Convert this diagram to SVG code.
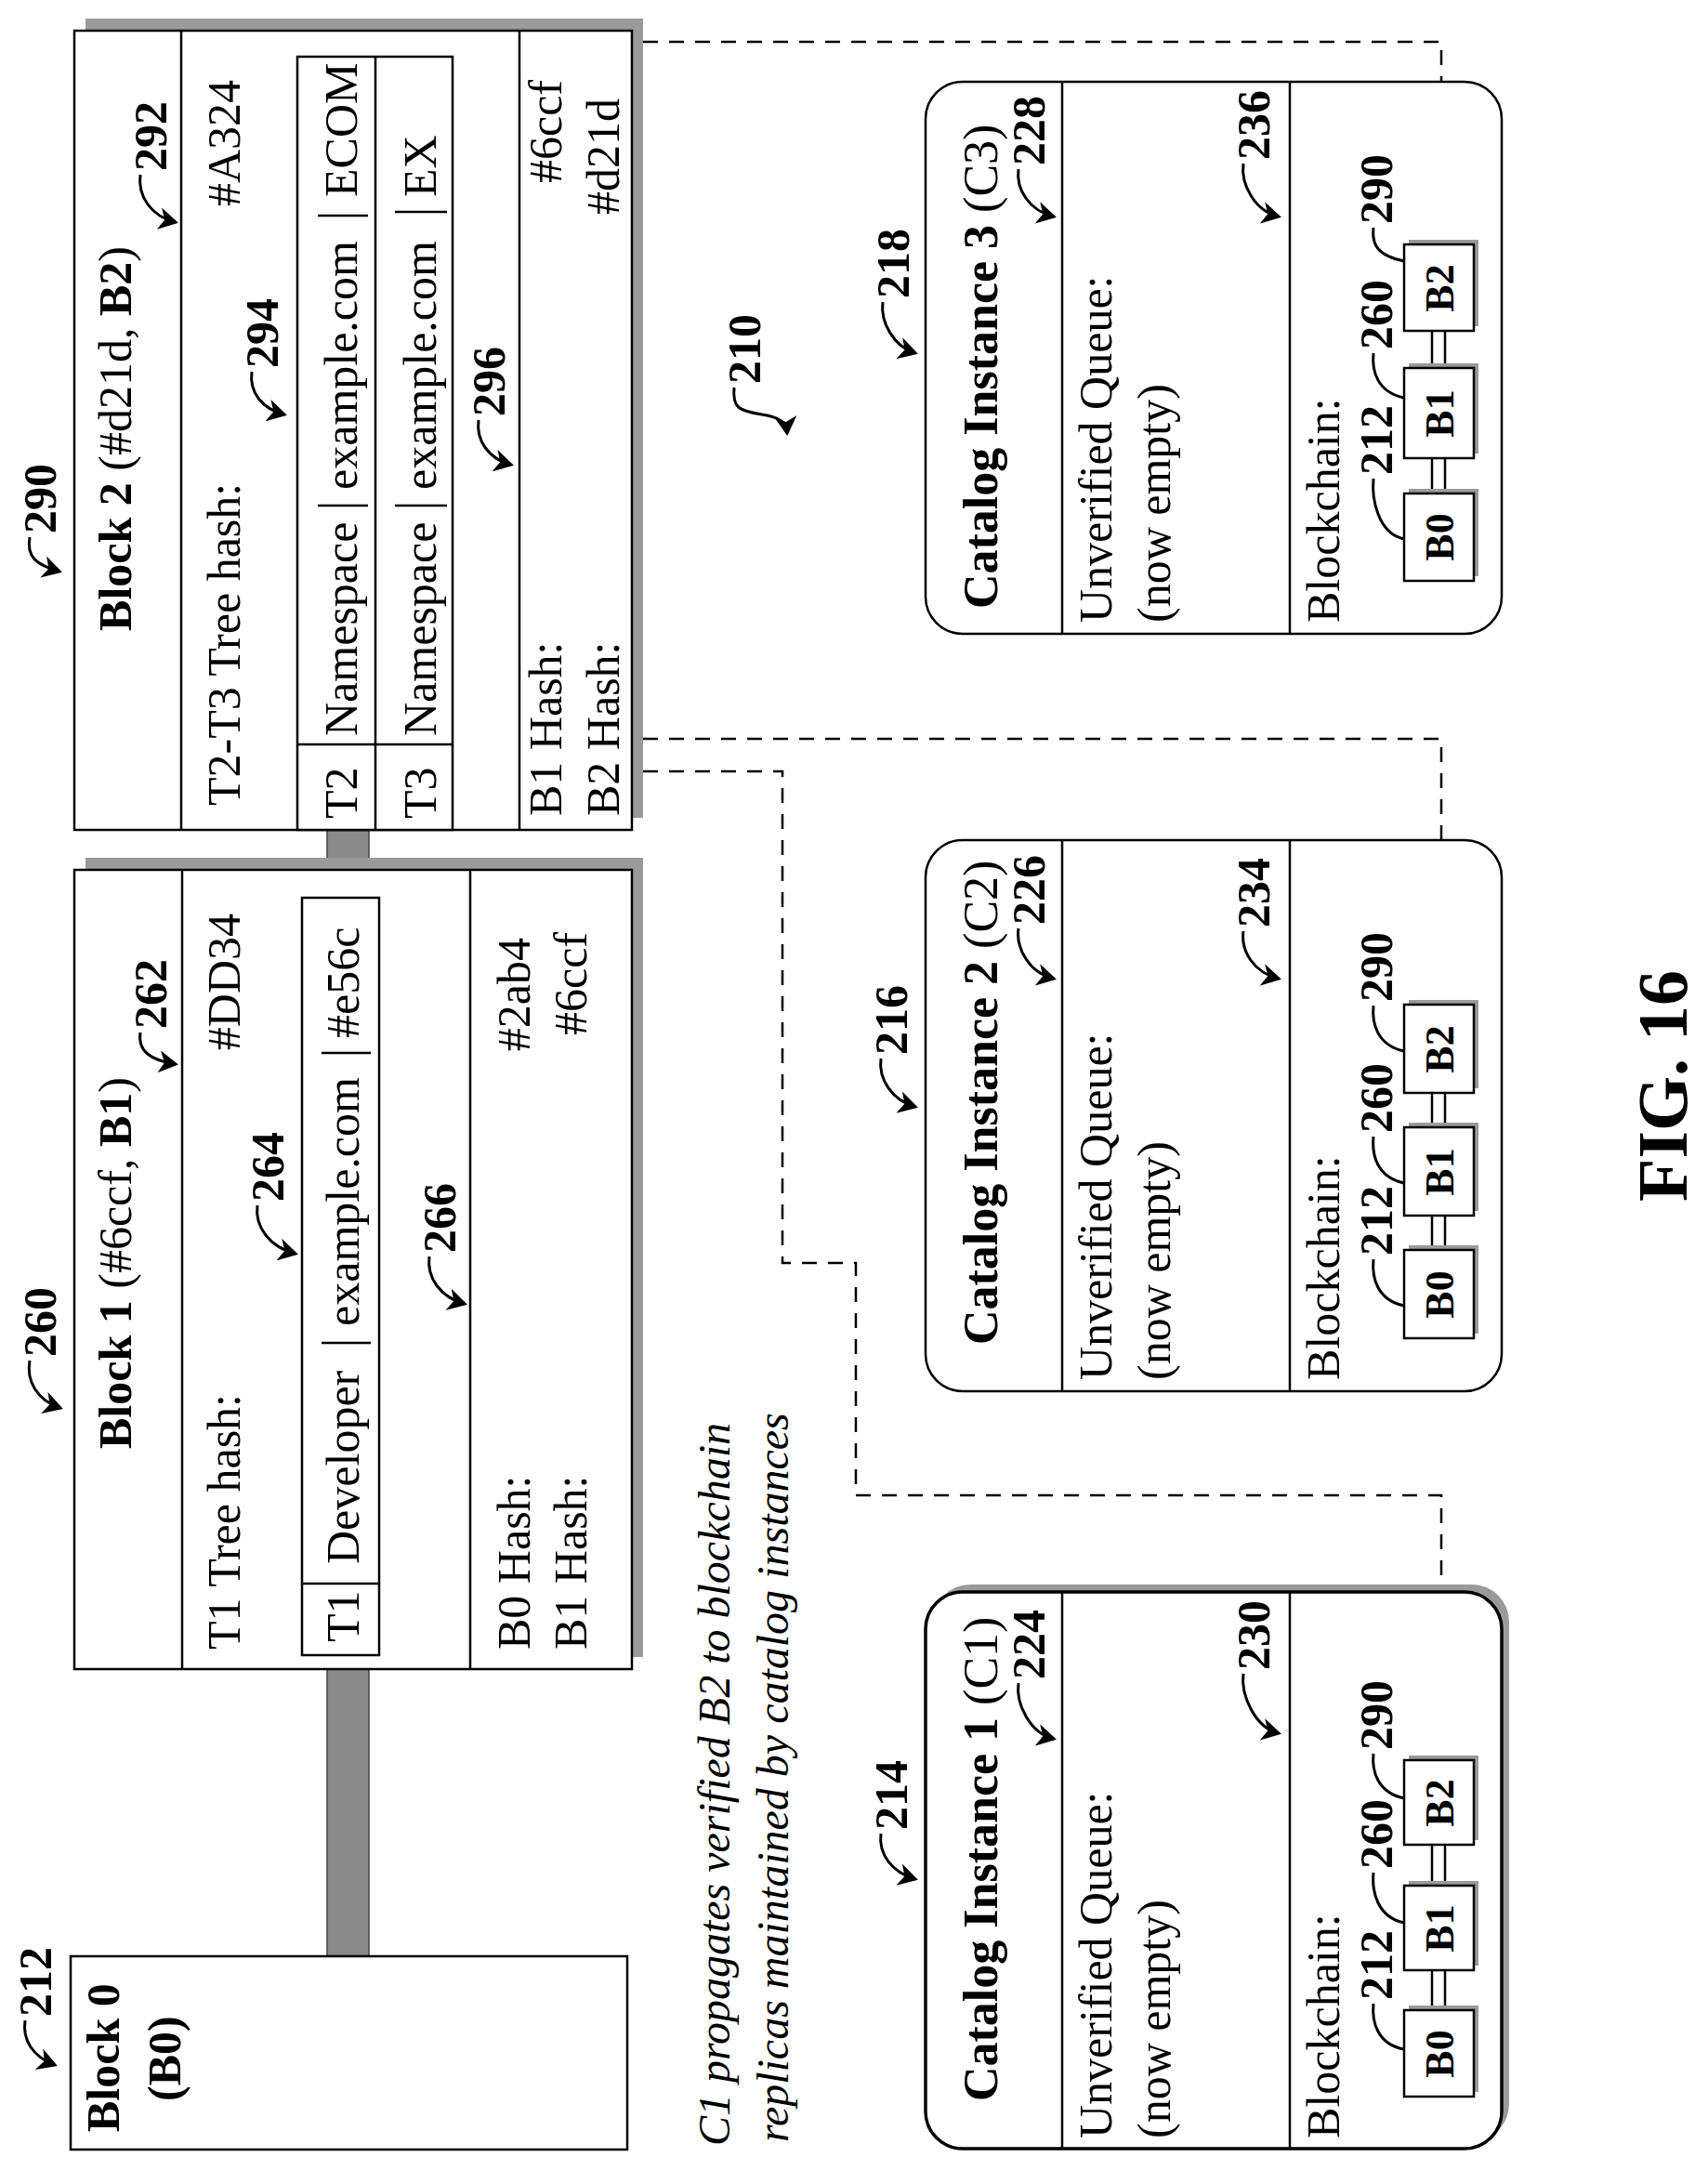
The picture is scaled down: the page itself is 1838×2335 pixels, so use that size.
<svg xmlns="http://www.w3.org/2000/svg" width="1838" height="2335" viewBox="0 0 1838 2335">
<style>
text{font-family:"Liberation Serif","Times New Roman",serif;fill:#000}
.t{font-size:50px}
.b{font-weight:bold}
.lb{font-size:50px;font-weight:bold}
.box{fill:#fff;stroke:#000;stroke-width:2.5}
.sh{fill:#9a9a9a}
.ln{fill:none;stroke:#000;stroke-width:2.5}
.ld{fill:none;stroke:#000;stroke-width:3;marker-end:url(#ah)}
.lm{fill:none;stroke:#000;stroke-width:3}
.dash{fill:none;stroke:#000;stroke-width:2.5;stroke-dasharray:16 12}
.bar{fill:#8a8a8a;stroke:#444;stroke-width:1.5}
.mb{font-size:44px;font-weight:bold}
</style>
<defs>
<marker id="ah" markerWidth="8" markerHeight="8" refX="6" refY="4" orient="auto" markerUnits="strokeWidth">
<path d="M0,0 L7,4 L0,8 L2,4 z" fill="#000"/>
</marker>
</defs>
<g transform="translate(0,2335) rotate(-90)">
<g id="connectors">
<rect class="bar" x="230" y="352" width="309" height="45"/>
<rect class="bar" x="1396" y="352" width="48" height="45"/>
<path class="dash" d="M2290,692 L2290,1551 L2074,1551"/>
<path class="dash" d="M1540,692 L1540,1551 L1254,1551"/>
<path class="dash" d="M1505,692 L1505,842 L976,842 L976,921 L726,921 L726,1551 L441,1551"/>
</g>
<g id="block0">
<rect class="box" x="22" y="76" width="208" height="599"/>
<text class="lb" x="41" y="128">Block 0</text>
<text class="lb" x="74" y="194">(B0)</text>
<text class="lb" x="165" y="55">212</text>
<path class="ld" d="M161,27 C140,24 122,35 113,59"/>
</g>
<g id="block1">
<rect class="sh" x="552" y="92" width="860" height="600"/>
<rect class="box" x="539" y="80" width="860" height="600"/>
<line class="ln" x1="539" y1="196" x2="1399" y2="196"/>
<line class="ln" x1="539" y1="506" x2="1399" y2="506"/>
<text class="t" x="976" y="141" text-anchor="middle"><tspan class="b">Block 1</tspan> (#6ccf, <tspan class="b">B1</tspan>)</text>
<text class="t" x="560" y="258">T1 Tree hash:</text>
<text class="t" x="1352" y="258" text-anchor="end">#DD34</text>
<rect class="box" x="554" y="325" width="815" height="83"/>
<line class="ln" x1="631" y1="325" x2="631" y2="408"/>
<text class="t" x="568" y="386">T1</text>
<text class="t" x="652" y="386">Developer</text>
<line class="ln" x1="890" y1="346" x2="890" y2="399"/>
<text class="t" x="908" y="386">example.com</text>
<line class="ln" x1="1202" y1="346" x2="1202" y2="399"/>
<text class="t" x="1218" y="386">#e56c</text>
<text class="t" x="560" y="570">B0 Hash:</text>
<text class="t" x="560" y="631">B1 Hash:</text>
<text class="t" x="1326" y="570" text-anchor="end">#2ab4</text>
<text class="t" x="1332" y="631" text-anchor="end">#6ccf</text>
<text class="lb" x="875" y="60">260</text>
<path class="ld" d="M871,32 C849,28 828,40 820,65"/>
<text class="lb" x="1228" y="179">262</text>
<path class="ld" d="M1224,151 C1204,148 1194,162 1190,189"/>
<text class="lb" x="1042" y="305">264</text>
<path class="ld" d="M1038,277 C1015,274 993,290 986,318"/>
<text class="lb" x="987" y="490">266</text>
<path class="ld" d="M983,462 C960,459 939,474 932,500"/>
</g>
<g id="block2">
<rect class="sh" x="1455" y="92" width="860" height="600"/>
<rect class="box" x="1442" y="80" width="860" height="600"/>
<line class="ln" x1="1442" y1="195" x2="2302" y2="195"/>
<line class="ln" x1="1442" y1="559" x2="2302" y2="559"/>
<text class="t" x="1863" y="141" text-anchor="middle"><tspan class="b">Block 2</tspan> (#d21d, <tspan class="b">B2</tspan>)</text>
<text class="t" x="1468" y="258">T2-T3 Tree hash:</text>
<text class="t" x="2249" y="258" text-anchor="end">#A324</text>
<rect class="box" x="1442" y="320" width="832" height="167"/>
<line class="ln" x1="1442" y1="404" x2="2274" y2="404"/>
<line class="ln" x1="1534" y1="320" x2="1534" y2="487"/>
<text class="t" x="1454" y="384">T2</text>
<text class="t" x="1543" y="384">Namespace</text>
<line class="ln" x1="1791" y1="342" x2="1791" y2="396"/>
<text class="t" x="1808" y="384">example.com</text>
<line class="ln" x1="2103" y1="342" x2="2103" y2="396"/>
<text class="t" x="2123" y="384">ECOM</text>
<text class="t" x="1454" y="469">T3</text>
<text class="t" x="1543" y="469">Namespace</text>
<line class="ln" x1="1791" y1="425" x2="1791" y2="481"/>
<text class="t" x="1808" y="469">example.com</text>
<line class="ln" x1="2107" y1="425" x2="2107" y2="481"/>
<text class="t" x="2123" y="469">EX</text>
<text class="t" x="1457" y="604">B1 Hash:</text>
<text class="t" x="1457" y="666">B2 Hash:</text>
<text class="t" x="2249" y="604" text-anchor="end">#6ccf</text>
<text class="t" x="2229" y="666" text-anchor="end">#d21d</text>
<text class="lb" x="1761" y="60">290</text>
<path class="ld" d="M1757,32 C1735,28 1727,40 1720,64"/>
<text class="lb" x="2151" y="179">292</text>
<path class="ld" d="M2147,151 C2125,148 2102,162 2096,189"/>
<text class="lb" x="1939" y="299">294</text>
<path class="ld" d="M1935,271 C1913,268 1895,282 1889,306"/>
<text class="lb" x="1887" y="543">296</text>
<path class="ld" d="M1883,515 C1861,512 1841,526 1835,550"/>
</g>
<g id="label210">
<text class="lb" x="1922" y="818">210</text>
<path class="ld" d="M1918,790 C1896,788 1893,795 1889,820 C1886,840 1880,846 1869,847"/>
</g>
<g id="caption">
<text x="26" y="785" style="font-size:48px;font-style:italic">C1 propagates verified B2 to blockchain</text>
<text x="30" y="848" style="font-size:48px;font-style:italic">replicas maintained by catalog instances</text>
</g>
<g id="c1">
<rect class="sh" x="31" y="1004" width="599" height="620" rx="40"/>
<rect class="box" x="23" y="996" width="599" height="620" rx="40" style="stroke-width:3.5"/>
<line class="ln" x1="23" y1="1143" x2="622" y2="1143"/>
<line class="ln" x1="23" y1="1388" x2="622" y2="1388"/>
<text class="t" x="74" y="1073" style="font-size:52px"><tspan class="b">Catalog Instance 1</tspan> (C1)</text>
<text class="t" x="34" y="1196">Unverified Queue:</text>
<text class="t" x="34" y="1259">(now empty)</text>
<text class="t" x="34" y="1441">Blockchain:</text>
<line class="ln" x1="172" y1="1541" x2="215" y2="1541"/><line class="ln" x1="172" y1="1555" x2="215" y2="1555"/>
<line class="ln" x1="305" y1="1541" x2="350" y2="1541"/><line class="ln" x1="305" y1="1555" x2="350" y2="1555"/>
<rect class="sh" x="84" y="1516" width="93" height="75"/><rect class="box" x="79" y="1511" width="93" height="75"/>
<rect class="sh" x="220" y="1516" width="91" height="75"/><rect class="box" x="215" y="1511" width="91" height="75"/>
<rect class="sh" x="355" y="1516" width="91" height="75"/><rect class="box" x="350" y="1511" width="91" height="75"/>
<text class="mb" x="125" y="1564" text-anchor="middle">B0</text>
<text class="mb" x="260" y="1564" text-anchor="middle">B1</text>
<text class="mb" x="395" y="1564" text-anchor="middle">B2</text>
<text class="lb" x="183" y="1498">212</text><path class="lm" d="M179,1478 C160,1476 135,1482 130,1511"/>
<text class="lb" x="324" y="1498">260</text><path class="lm" d="M320,1478 C300,1476 272,1482 266,1511"/>
<text class="lb" x="452" y="1498">290</text><path class="lm" d="M448,1478 C430,1476 406,1482 400,1511"/>
<text class="lb" x="366" y="976">214</text><path class="ld" d="M362,948 C340,945 320,960 313,985"/>
<text class="lb" x="528" y="1124">224</text><path class="ld" d="M524,1096 C502,1093 470,1108 464,1134"/>
<text class="lb" x="538" y="1366">230</text><path class="ld" d="M534,1338 C512,1335 476,1350 470,1376"/>
</g>
<g id="c2">
<rect class="box" x="838" y="996" width="593" height="620" rx="40"/>
<line class="ln" x1="838" y1="1143" x2="1431" y2="1143"/>
<line class="ln" x1="838" y1="1388" x2="1431" y2="1388"/>
<text class="t" x="888" y="1073" style="font-size:52px"><tspan class="b">Catalog Instance 2</tspan> (C2)</text>
<text class="t" x="850" y="1196">Unverified Queue:</text>
<text class="t" x="850" y="1259">(now empty)</text>
<text class="t" x="850" y="1441">Blockchain:</text>
<line class="ln" x1="990" y1="1541" x2="1027" y2="1541"/><line class="ln" x1="990" y1="1555" x2="1027" y2="1555"/>
<line class="ln" x1="1122" y1="1541" x2="1159" y2="1541"/><line class="ln" x1="1122" y1="1555" x2="1159" y2="1555"/>
<rect class="sh" x="900" y="1516" width="95" height="75"/><rect class="box" x="895" y="1511" width="95" height="75"/>
<rect class="sh" x="1032" y="1516" width="95" height="75"/><rect class="box" x="1027" y="1511" width="95" height="75"/>
<rect class="sh" x="1164" y="1516" width="95" height="75"/><rect class="box" x="1159" y="1511" width="95" height="75"/>
<text class="mb" x="942" y="1564" text-anchor="middle">B0</text>
<text class="mb" x="1074" y="1564" text-anchor="middle">B1</text>
<text class="mb" x="1206" y="1564" text-anchor="middle">B2</text>
<text class="lb" x="984" y="1498">212</text><path class="lm" d="M980,1478 C960,1476 936,1482 930,1511"/>
<text class="lb" x="1116" y="1498">260</text><path class="lm" d="M1112,1478 C1092,1476 1068,1482 1062,1511"/>
<text class="lb" x="1257" y="1498">290</text><path class="lm" d="M1253,1478 C1234,1476 1210,1482 1204,1511"/>
<text class="lb" x="1200" y="976">216</text><path class="ld" d="M1196,948 C1174,945 1151,960 1144,985"/>
<text class="lb" x="1340" y="1124">226</text><path class="ld" d="M1336,1096 C1314,1093 1288,1108 1282,1134"/>
<text class="lb" x="1337" y="1366">234</text><path class="ld" d="M1333,1338 C1311,1335 1288,1350 1282,1376"/>
</g>
<g id="c3">
<rect class="box" x="1653" y="996" width="594" height="620" rx="40"/>
<line class="ln" x1="1653" y1="1143" x2="2247" y2="1143"/>
<line class="ln" x1="1653" y1="1388" x2="2247" y2="1388"/>
<text class="t" x="1680" y="1073" style="font-size:52px"><tspan class="b">Catalog Instance 3</tspan> (C3)</text>
<text class="t" x="1665" y="1196">Unverified Queue:</text>
<text class="t" x="1665" y="1259">(now empty)</text>
<text class="t" x="1665" y="1441">Blockchain:</text>
<line class="ln" x1="1804" y1="1541" x2="1842" y2="1541"/><line class="ln" x1="1804" y1="1555" x2="1842" y2="1555"/>
<line class="ln" x1="1939" y1="1541" x2="1979" y2="1541"/><line class="ln" x1="1939" y1="1555" x2="1979" y2="1555"/>
<rect class="sh" x="1715" y="1516" width="94" height="75"/><rect class="box" x="1710" y="1511" width="94" height="75"/>
<rect class="sh" x="1847" y="1516" width="97" height="75"/><rect class="box" x="1842" y="1511" width="97" height="75"/>
<rect class="sh" x="1984" y="1516" width="93" height="75"/><rect class="box" x="1979" y="1511" width="93" height="75"/>
<text class="mb" x="1757" y="1564" text-anchor="middle">B0</text>
<text class="mb" x="1890" y="1564" text-anchor="middle">B1</text>
<text class="mb" x="2025" y="1564" text-anchor="middle">B2</text>
<text class="lb" x="1824" y="1498">212</text><path class="lm" d="M1820,1478 C1800,1476 1761,1482 1755,1511"/>
<text class="lb" x="1959" y="1498">260</text><path class="lm" d="M1955,1478 C1936,1476 1913,1482 1907,1511"/>
<text class="lb" x="2094" y="1498">290</text><path class="lm" d="M2090,1478 C2072,1476 2060,1482 2054,1511"/>
<text class="lb" x="2014" y="978">218</text><path class="ld" d="M2010,950 C1988,947 1962,962 1955,985"/>
<text class="lb" x="2157" y="1124">228</text><path class="ld" d="M2153,1096 C2131,1093 2108,1108 2102,1134"/>
<text class="lb" x="2163" y="1366">236</text><path class="ld" d="M2159,1338 C2137,1335 2108,1350 2102,1376"/>
</g>
<text class="b" x="1042" y="1815" style="font-size:76px">FIG. 16</text>
</g>
</svg>
